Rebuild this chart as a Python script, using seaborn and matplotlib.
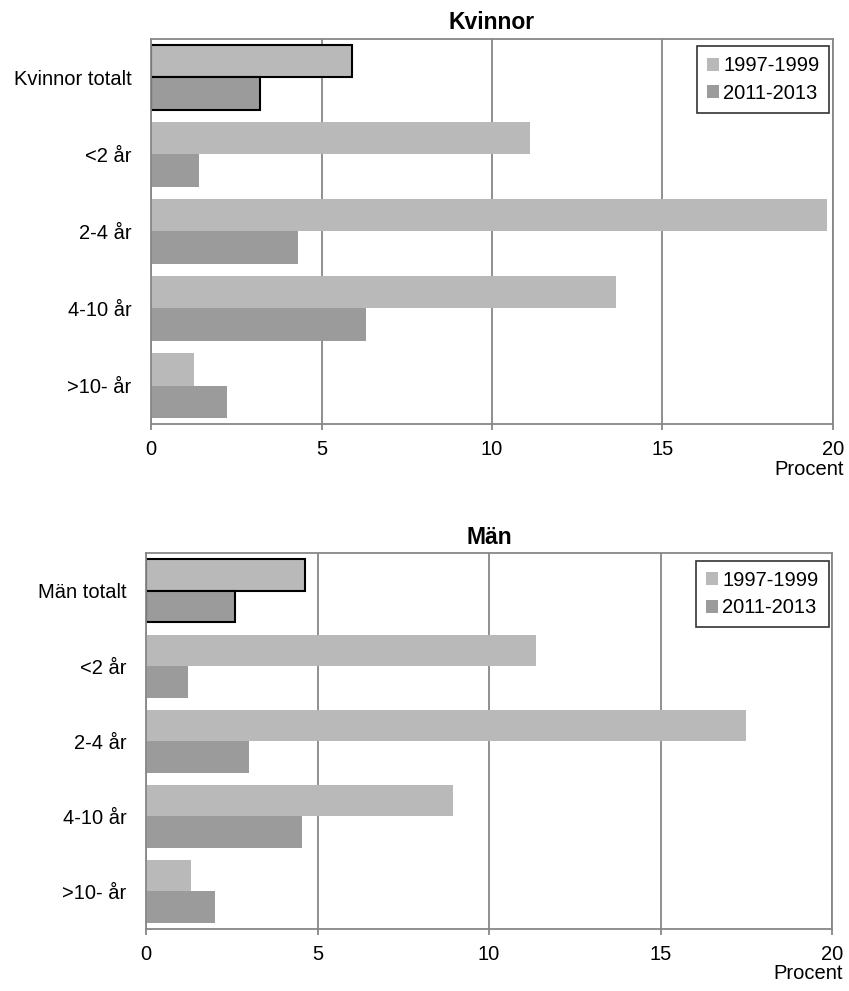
import pandas as pd
import matplotlib
matplotlib.use("Agg")
import matplotlib.pyplot as plt
import seaborn as sns
from matplotlib.patches import Patch

# data
periods = ["1997-1999", "2011-2013"]
kvinnor_labels = ["Kvinnor totalt", "<2 år", "2-4 år", "4-10 år", ">10- år"]
kvinnor_1997 = [5.90, 11.12, 19.84, 13.64, 1.26]
kvinnor_2011 = [3.18, 1.39, 4.30, 6.30, 2.23]
man_labels = ["Män totalt", "<2 år", "2-4 år", "4-10 år", ">10- år"]
man_1997 = [4.63, 11.38, 17.50, 8.94, 1.30]
man_2011 = [2.58, 1.21, 3.00, 4.55, 2.00]
xticks = [0, 5, 10, 15, 20]

colors = {"1997-1999": "#b9b9b9", "2011-2013": "#9b9b9b"}
grid_col = "#878787"
fs = 14.5

sns.set_theme(style="white")
plt.rcParams["font.family"] = ["Liberation Sans", "DejaVu Sans"]
plt.rcParams["text.color"] = "black"
plt.rcParams["xtick.labelcolor"] = "black"
plt.rcParams["ytick.labelcolor"] = "black"


def make_frame(labels, old, new):
    return pd.DataFrame({
        "grupp": labels * 2,
        "period": [periods[0]] * len(labels) + [periods[1]] * len(labels),
        "procent": old + new,
    })


def draw_panel(ax, df, title, labels):
    sns.barplot(data=df, y="grupp", x="procent", hue="period", order=labels,
                hue_order=periods, palette=colors, orient="h", width=0.84,
                saturation=1, dodge=True, legend=False, ax=ax, linewidth=0)
    # the "totalt" bars have a black outline
    for container in ax.containers:
        container.patches[0].set_edgecolor("black")
        container.patches[0].set_linewidth(1.5)
    ax.set_xlim(0, 20)
    ax.set_ylim(4.5, -0.5)
    ax.set_xticks(xticks)
    ax.set_axisbelow(True)
    ax.grid(axis="x", color=grid_col, linewidth=1.3)
    ax.grid(axis="y", visible=False)
    for sp in ax.spines.values():
        sp.set_visible(True)
        sp.set_color(grid_col)
        sp.set_linewidth(1.3)
    ax.tick_params(axis="x", direction="out", length=4.5, width=1.3,
                   color=grid_col, pad=7, labelsize=fs, bottom=True,
                   labelcolor="black")
    ax.tick_params(axis="y", length=0, pad=14, labelsize=fs,
                   labelcolor="black")
    ax.set_xlabel("")
    ax.set_ylabel("")
    ax.set_title(title, fontsize=16.5, fontweight="bold", pad=7,
                 color="black")
    ax.annotate("Procent", xy=(1, 0), xycoords="axes fraction",
                xytext=(11, -45), textcoords="offset pixels",
                ha="right", va="center", fontsize=fs, color="black")
    handles = [Patch(facecolor=colors[p], edgecolor="none") for p in periods]
    leg = ax.legend(handles, periods, loc="upper right",
                    bbox_to_anchor=(0.995, 0.98), fontsize=fs, frameon=True,
                    fancybox=False, handlelength=0.6, handleheight=0.6,
                    handletextpad=0.2, borderpad=0.5, labelspacing=0.42,
                    borderaxespad=0, labelcolor="black")
    leg.get_frame().set_edgecolor("black")
    leg.get_frame().set_linewidth(1.2)


fig = plt.figure(figsize=(8.49, 9.91), dpi=100)
ax_top = fig.add_axes([0.178, 0.572, 0.803, 0.389])
ax_bot = fig.add_axes([0.172, 0.0626, 0.808, 0.379])

draw_panel(ax_top, make_frame(kvinnor_labels, kvinnor_1997, kvinnor_2011),
           "Kvinnor", kvinnor_labels)
draw_panel(ax_bot, make_frame(man_labels, man_1997, man_2011),
           "Män", man_labels)

fig.savefig("out.png", dpi=100, facecolor="white")
